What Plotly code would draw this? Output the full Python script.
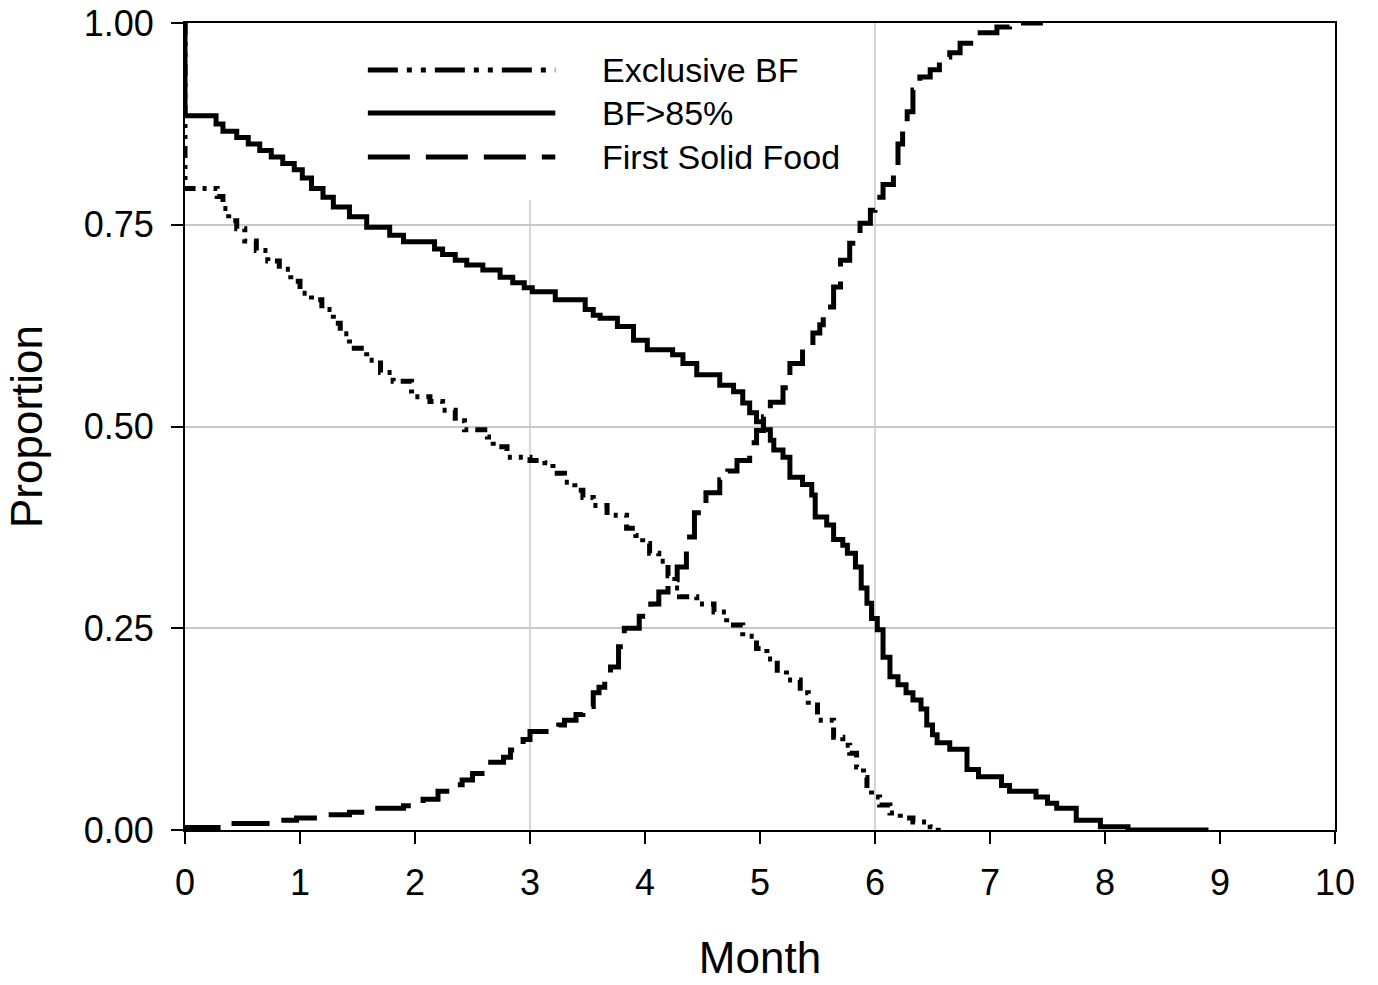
import plotly.graph_objects as go

# ---------------- data ----------------
series_names = ["Exclusive BF", "BF>85%", "First Solid Food"]

excl_month = [0, 0, 0.28, 0.33, 0.38, 0.45, 0.52, 0.62, 0.72, 0.82, 0.92, 1.0, 1.1, 1.19, 1.29,
              1.35, 1.43, 1.58, 1.7, 1.81, 1.97, 2.13, 2.24, 2.35, 2.43, 2.63, 2.68, 2.8, 3.0,
              3.13, 3.2, 3.3, 3.39, 3.46, 3.55, 3.67, 3.84, 3.92, 3.98, 4.04, 4.12, 4.2, 4.26,
              4.30, 4.45, 4.6, 4.71, 4.85, 4.97, 5.06, 5.15, 5.23, 5.35, 5.42, 5.5, 5.64, 5.72,
              5.78, 5.84, 5.9, 5.93, 5.97, 6.04, 6.13, 6.22, 6.33, 6.48, 6.55]
excl_prop = [1.0, 0.795, 0.785, 0.77, 0.755, 0.745, 0.73, 0.718, 0.705, 0.695, 0.68, 0.665, 0.657,
             0.645, 0.628, 0.615, 0.597, 0.582, 0.567, 0.556, 0.537, 0.531, 0.52, 0.507, 0.496,
             0.487, 0.475, 0.462, 0.458, 0.455, 0.442, 0.431, 0.421, 0.412, 0.402, 0.39, 0.374,
             0.365, 0.355, 0.343, 0.333, 0.315, 0.30, 0.289, 0.28, 0.27, 0.254, 0.24, 0.225,
             0.212, 0.198, 0.186, 0.17, 0.155, 0.136, 0.115, 0.105, 0.095, 0.078, 0.065, 0.055,
             0.041, 0.031, 0.021, 0.015, 0.01, 0.004, 0.0]

bf85_month = [0, 0, 0.27, 0.33, 0.45, 0.55, 0.65, 0.75, 0.85, 0.95, 1.02, 1.1, 1.2, 1.29, 1.43,
              1.58, 1.78, 1.9, 2.17, 2.24, 2.35, 2.45, 2.59, 2.74, 2.85, 2.95, 3.02, 3.22, 3.48,
              3.55, 3.61, 3.76, 3.9, 4.02, 4.24, 4.33, 4.45, 4.65, 4.77, 4.85, 4.91, 4.97, 5.03,
              5.09, 5.12, 5.2, 5.26, 5.37, 5.45, 5.48, 5.58, 5.64, 5.72, 5.76, 5.83, 5.88, 5.93,
              5.97, 6.02, 6.07, 6.13, 6.2, 6.27, 6.33, 6.4, 6.45, 6.5, 6.54, 6.65, 6.8, 6.9, 7.1,
              7.17, 7.4, 7.5, 7.58, 7.75, 7.96, 8.2, 8.9]
bf85_prop = [1.0, 0.885, 0.875, 0.866, 0.858, 0.85, 0.842, 0.834, 0.826, 0.818, 0.808, 0.795,
             0.784, 0.772, 0.76, 0.747, 0.737, 0.729, 0.72, 0.713, 0.706, 0.70, 0.694, 0.685,
             0.678, 0.672, 0.667, 0.657, 0.645, 0.638, 0.634, 0.624, 0.607, 0.595, 0.589, 0.578,
             0.564, 0.551, 0.543, 0.529, 0.517, 0.506, 0.496, 0.483, 0.471, 0.462, 0.437, 0.428,
             0.415, 0.388, 0.378, 0.36, 0.353, 0.343, 0.326, 0.30, 0.281, 0.262, 0.248, 0.214,
             0.19, 0.18, 0.17, 0.161, 0.15, 0.13, 0.118, 0.108, 0.1, 0.075, 0.066, 0.055, 0.048,
             0.041, 0.033, 0.027, 0.012, 0.004, 0.0, 0.0]

food_month = [0, 0, 0.35, 0.8, 0.97, 1.2, 1.43, 1.58, 1.9, 2.07, 2.2, 2.3, 2.41, 2.5, 2.63, 2.77,
              2.83, 2.94, 3.0, 3.25, 3.3, 3.4, 3.46, 3.55, 3.6, 3.65, 3.7, 3.77, 3.82, 3.95,
              4.05, 4.12, 4.2, 4.28, 4.36, 4.43, 4.53, 4.65, 4.72, 4.8, 4.91, 4.97, 5.03, 5.09,
              5.2, 5.26, 5.37, 5.46, 5.52, 5.55, 5.64, 5.7, 5.78, 5.87, 5.96, 6.0, 6.07, 6.16,
              6.2, 6.24, 6.28, 6.33, 6.39, 6.48, 6.56, 6.65, 6.74, 6.89, 7.06, 7.17, 7.46]
food_prop = [0.0, 0.003, 0.008, 0.012, 0.015, 0.019, 0.022, 0.027, 0.03, 0.038, 0.048, 0.056,
             0.062, 0.07, 0.084, 0.09, 0.099, 0.112, 0.122, 0.13, 0.136, 0.143, 0.153, 0.17,
             0.177, 0.19, 0.202, 0.227, 0.25, 0.265, 0.28, 0.295, 0.31, 0.326, 0.363, 0.393,
             0.418, 0.434, 0.445, 0.458, 0.48, 0.495, 0.512, 0.53, 0.548, 0.578, 0.599, 0.616,
             0.626, 0.648, 0.673, 0.706, 0.727, 0.752, 0.768, 0.784, 0.80, 0.82, 0.85, 0.867,
             0.89, 0.917, 0.933, 0.942, 0.958, 0.963, 0.975, 0.988, 0.995, 1.0, 1.0]

x_ticks = [0, 1, 2, 3, 4, 5, 6, 7, 8, 9, 10]
y_ticks = [0.0, 0.25, 0.5, 0.75, 1.0]

# ---------------- styles ----------------
FONT = "Liberation Sans, Arial, sans-serif"
LW = 5
data_dash = ["12px,7px,4px,7px,4px,7px", "solid", "38px,15px"]
legend_dash = ["30px,9px,5px,9px,5px,9px", "solid", "42px,16px"]

fig = go.Figure()
for name, xs, ys, dash in zip(series_names,
                              [excl_month, bf85_month, food_month],
                              [excl_prop, bf85_prop, food_prop],
                              data_dash):
    fig.add_trace(go.Scatter(x=xs, y=ys, mode="lines", name=name, showlegend=False,
                             line=dict(color="black", width=LW, dash=dash, shape="hv")))

# partial vertical gridlines (x=3 hidden behind the legend area, x=6 full)
fig.add_shape(type="line", xref="x", yref="y", x0=3, x1=3, y0=0, y1=0.78,
              line=dict(color="#c8c8c8", width=1.5), layer="below")
fig.add_shape(type="line", xref="x", yref="y", x0=6, x1=6, y0=0, y1=1,
              line=dict(color="#c8c8c8", width=1.5), layer="below")

# manual legend
row_y = [0.9418, 0.8885, 0.834]
for name, dash, yy in zip(series_names, legend_dash, row_y):
    fig.add_shape(type="line", xref="paper", yref="paper", x0=0.159, x1=0.322, y0=yy, y1=yy,
                  line=dict(color="black", width=LW, dash=dash))
    fig.add_annotation(xref="paper", yref="paper", x=0.361, y=yy, text=name, showarrow=False,
                       xanchor="left", yanchor="middle",
                       font=dict(family=FONT, size=34, color="black"))

fig.update_layout(
    width=1378, height=985,
    margin=dict(l=185, r=43, t=23, b=155, autoexpand=False),
    paper_bgcolor="white", plot_bgcolor="white",
    font=dict(family=FONT, color="black"),
)
fig.update_xaxes(range=[0, 10], tickvals=x_ticks, ticks="outside", ticklen=12, tickwidth=2,
                 tickcolor="black", showline=True, linecolor="black", linewidth=2, mirror=True,
                 showgrid=False, zeroline=False, tickfont=dict(size=36, family=FONT),
                 automargin=False, ticklabelstandoff=8,
                 title=dict(text="Month", font=dict(size=44, family=FONT), standoff=40))
fig.update_yaxes(range=[0, 1], tickvals=y_ticks, tickformat=".2f", ticks="outside", ticklen=12,
                 tickwidth=2, tickcolor="black", showline=True, linecolor="black", linewidth=2,
                 mirror=True, showgrid=True, gridcolor="#c8c8c8", gridwidth=1.5, zeroline=False,
                 tickfont=dict(size=36, family=FONT), automargin=False, ticklabelstandoff=10,
                 title=dict(text="Proportion", font=dict(size=44, family=FONT), standoff=27))

fig.write_html("out.html")
